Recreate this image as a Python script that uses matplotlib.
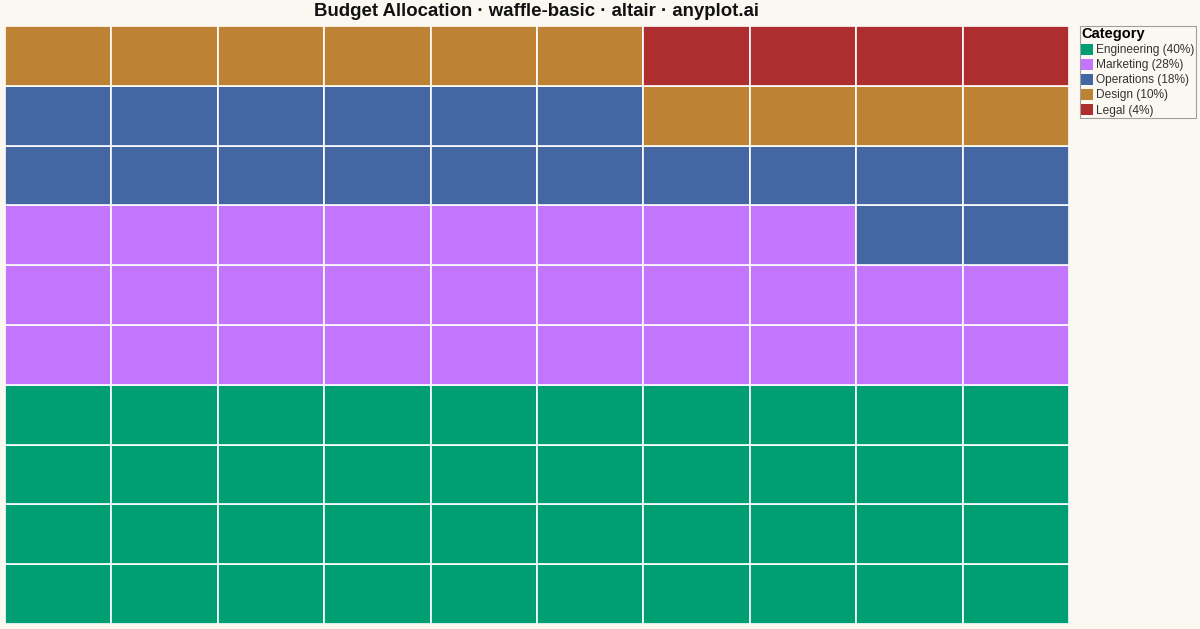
import numpy as np
import matplotlib.pyplot as plt
from matplotlib.patches import Patch

# Budget share per category (percent = number of waffle cells)
categories = ["Engineering", "Marketing", "Operations", "Design", "Legal"]
shares = [40, 28, 18, 10, 4]
colors = ["#009E73", "#C475FD", "#4467A3", "#BD8233", "#AE2E30"]
n_cols = 10
n_rows = 10
bg = "#FAF8F1"

fig = plt.figure(figsize=(12, 6.29), dpi=100, facecolor=bg)
ax = fig.add_axes([5 / 1200, 5 / 629, 1064 / 1200, 598 / 629])
ax.set_facecolor(bg)

# fill cells row by row from the bottom left
cell = 0
for cat, n, col in zip(categories, shares, colors):
    idx = np.arange(cell, cell + n)
    cell += n
    ax.bar(idx % n_cols, 1, width=1, bottom=idx // n_cols, align="edge",
           color=col, edgecolor="white", linewidth=1.2)

ax.set_xlim(0, n_cols)
ax.set_ylim(0, n_rows)
ax.axis("off")

fig.text(537 / 1200, 1 - 12 / 629, "Budget Allocation · waffle-basic · altair · anyplot.ai",
         ha="center", va="center", fontsize=13.4, fontweight="bold",
         family="Liberation Sans", color="#111111")

handles = [Patch(facecolor=c, edgecolor="none") for c in colors]
labels = [f"{c} ({s}%)" for c, s in zip(categories, shares)]
leg = fig.legend(handles, labels, title="Category", loc="upper left",
                 bbox_to_anchor=(1080 / 1200, 1 - 26 / 629),
                 prop={"family": "Liberation Sans", "size": 8.6},
                 title_fontproperties={"family": "Liberation Sans", "size": 10.5, "weight": "bold"},
                 frameon=True, fancybox=False, borderpad=0.1, labelspacing=0.22,
                 handlelength=1.0, handleheight=1.0, handletextpad=0.25, borderaxespad=0)
leg.get_frame().set_edgecolor("#888888")
leg.get_frame().set_facecolor(bg)
leg.get_frame().set_linewidth(0.8)
leg._legend_box.align = "left"
for t in leg.get_texts():
    t.set_color("#333333")

fig.savefig("out.png", dpi=100, facecolor=bg)
